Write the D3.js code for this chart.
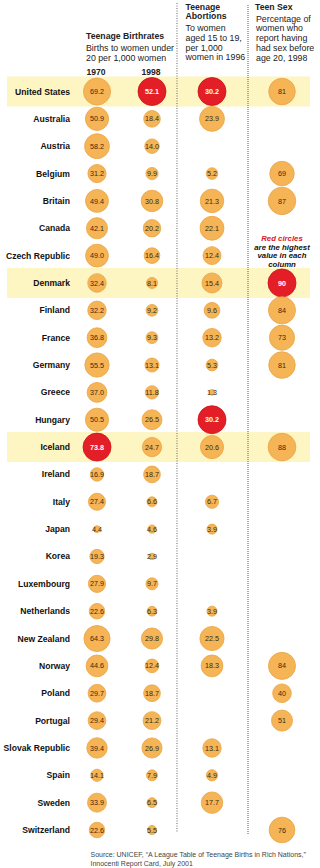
<!DOCTYPE html>
<html>
<head>
<meta charset="utf-8">
<script src="https://cdn.jsdelivr.net/npm/d3@7"></script>
<style>
  body { margin: 0; background: #fff; }
  svg { display: block; font-family: "Liberation Sans", Arial, sans-serif; }
</style>
</head>
<body>
<svg id="svg" width="320" height="868"></svg>
<script>
// data
const countries = ['United States', 'Australia', 'Austria', 'Belgium', 'Britain', 'Canada', 'Czech Republic',
    'Denmark', 'Finland', 'France', 'Germany', 'Greece', 'Hungary', 'Iceland', 'Ireland', 'Italy', 'Japan',
    'Korea', 'Luxembourg', 'Netherlands', 'New Zealand', 'Norway', 'Poland', 'Portugal', 'Slovak Republic',
    'Spain', 'Sweden', 'Switzerland'];
const births1970 = [69.2, 50.9, 58.2, 31.2, 49.4, 42.1, 49.0, 32.4, 32.2, 36.8, 55.5, 37.0, 50.5, 73.8,
    16.9, 27.4, 4.4, 19.3, 27.9, 22.6, 64.3, 44.6, 29.7, 29.4, 39.4, 14.1, 33.9, 22.6];
const births1998 = [52.1, 18.4, 14.0, 9.9, 30.8, 20.2, 16.4, 8.1, 9.2, 9.3, 13.1, 11.8, 26.5, 24.7,
    18.7, 6.6, 4.6, 2.9, 9.7, 6.3, 29.8, 12.4, 18.7, 21.2, 26.9, 7.9, 6.5, 5.5];
const abortions = [30.2, 23.9, null, 5.2, 21.3, 22.1, 12.4, 15.4, 9.6, 13.2, 5.3, 1.3, 30.2, 20.6,
    null, 6.7, 3.9, null, null, 3.9, 22.5, 18.3, null, null, 13.1, 4.9, 17.7, null];
const teenSex = [81, null, null, 69, 87, null, null, 90, 84, 73, 81, null, null, 88,
    null, null, null, null, null, null, null, 84, 40, 51, null, null, null, 76];
const highlighted = ['United States', 'Denmark', 'Iceland'];

const svg = d3.select('#svg');

const y = d3.scalePoint()
    .domain(countries)
    .range([91.5, 830]);

const columns = [
    { key: '1970', values: births1970, x: 97, fmt: d3.format('.1f') },
    { key: '1998', values: births1998, x: 152, fmt: d3.format('.1f') },
    { key: 'abort', values: abortions, x: 212, fmt: d3.format('.1f') },
    { key: 'sex', values: teenSex, x: 282, fmt: d3.format('d') }
];

// highlight bands
svg.selectAll('rect.band')
    .data(highlighted)
    .join('rect')
    .attr('class', 'band')
    .attr('x', 7)
    .attr('width', 303)
    .attr('y', d => y(d) - 15)
    .attr('height', 30)
    .attr('fill', '#fdf5c2');

// dotted separators
svg.append('line')
    .attr('x1', 177).attr('x2', 177).attr('y1', 3).attr('y2', 832)
    .attr('stroke', '#666').attr('stroke-width', 1).attr('stroke-dasharray', '1,1.5');
svg.append('line')
    .attr('x1', 248).attr('x2', 248).attr('y1', 5).attr('y2', 835)
    .attr('stroke', '#777').attr('stroke-width', 1.2).attr('stroke-dasharray', '1,1');

// header text
function lines(x, y0, dy, arr, opts) {
    arr.forEach((t, i) => {
        svg.append('text')
            .attr('x', x)
            .attr('y', y0 + i * dy)
            .attr('font-size', opts.size)
            .attr('font-weight', opts.bold ? 'bold' : 'normal')
            .attr('font-style', opts.italic ? 'italic' : 'normal')
            .attr('fill', opts.fill || '#222')
            .attr('text-anchor', opts.anchor || 'start')
            .text(t);
    });
}
lines(86, 38.5, 10, ['Teenage Birthrates'], { size: 8.7, bold: true });
lines(86, 51, 9.6, ['Births to women under', '20 per 1,000 women'], { size: 8.8 });
lines(96, 74.5, 10, ['1970'], { size: 8.6, bold: true, anchor: 'middle' });
lines(151, 75, 10, ['1998'], { size: 8.6, bold: true, anchor: 'middle' });
lines(185.5, 10, 9.4, ['Teenage', 'Abortions'], { size: 8.7, bold: true });
lines(185.5, 31, 9.8, ['To women', 'aged 15 to 19,', 'per 1,000', 'women in 1996'], { size: 8.8 });
lines(255, 10, 10, ['Teen Sex'], { size: 8.7, bold: true });
lines(256, 21.5, 9.8, ['Percentage of', 'women who', 'report having', 'had sex before', 'age 20, 1998'], { size: 8.8 });

// annotation
lines(282, 241, 8.6, ['Red circles'],
    { size: 7.8, bold: true, italic: true, anchor: 'middle', fill: '#d42030' });
lines(282, 249.5, 8.6, ['are the highest', 'value in each', 'column'],
    { size: 7.8, bold: true, italic: true, anchor: 'middle', fill: '#111' });

// country labels
svg.selectAll('text.country')
    .data(countries)
    .join('text')
    .attr('class', 'country')
    .attr('x', 70)
    .attr('y', d => y(d) + 3)
    .attr('text-anchor', 'end')
    .attr('font-size', 8.6)
    .attr('font-weight', 'bold')
    .attr('fill', '#111')
    .text(d => d);

// circles for each column
columns.forEach(col => {
    const max = d3.max(col.values);
    const r = d3.scaleSqrt().domain([0, max]).range([0, 14]);
    const rows = col.values
        .map((v, i) => ({ country: countries[i], v: v }))
        .filter(d => d.v != null);
    const g = svg.append('g');
    g.selectAll('circle')
        .data(rows)
        .join('circle')
        .attr('cx', col.x)
        .attr('cy', d => y(d.country))
        .attr('r', d => r(d.v))
        .attr('fill', d => d.v === max ? '#e41e26' : '#f5b455')
        .attr('stroke', d => d.v === max ? '#c8141c' : '#eaa444')
        .attr('stroke-width', 0.8);
    g.selectAll('text')
        .data(rows)
        .join('text')
        .attr('x', col.x)
        .attr('y', d => y(d.country) + 2.6)
        .attr('text-anchor', 'middle')
        .attr('font-size', 7.2)
        .attr('font-weight', d => d.v === max ? 'bold' : 'normal')
        .attr('fill', d => d.v === max ? '#fff' : '#3a2a10')
        .text(d => col.fmt(d.v));
});

// source
lines(90.5, 857, 8.6, ['Source: UNICEF, \u201cA League Table of Teenage Births in Rich Nations,\u201d',
    'Innocenti Report Card, July 2001'], { size: 7.0, fill: '#444' });
</script>
</body>
</html>
